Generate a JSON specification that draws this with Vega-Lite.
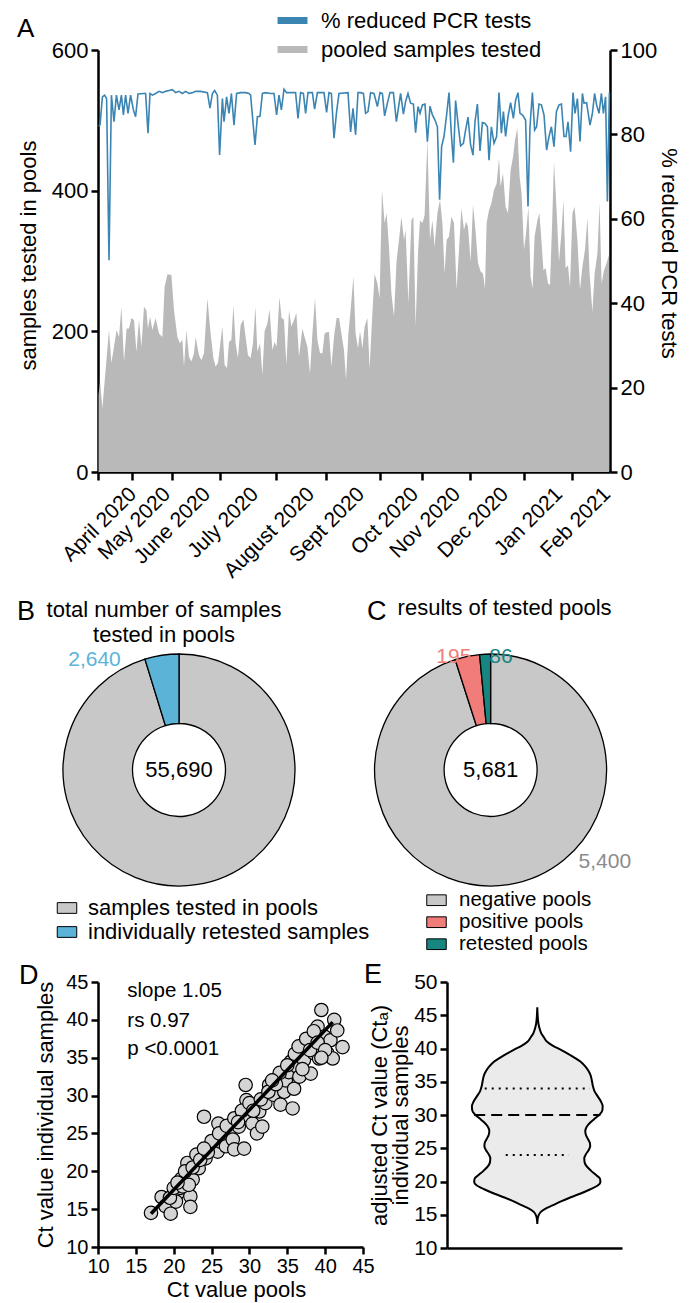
{
  "$schema": "https://vega.github.io/schema/vega-lite/v6.json",
  "padding": {"left": 17, "top": 6, "right": 10, "bottom": 5},
  "config": {
    "font": "Liberation Sans",
    "view": {"stroke": null},
    "axis": {"domainColor": "black", "domainWidth": 2.5, "tickColor": "black", "tickWidth": 2.5, "tickSize": 7, "labelFontSize": 21, "labelColor": "black", "titleFontSize": 22, "titleFontWeight": "normal", "titleColor": "black", "grid": false, "labelFont": "Liberation Sans", "titleFont": "Liberation Sans", "labelPadding": 3, "labelOverlap": false, "labelFlush": false, "labelBound": false},
    "legend": {"labelFont": "Liberation Sans", "labelColor": "black", "padding": 0, "labelLimit": 0},
    "title": {"font": "Liberation Sans", "fontSize": 27, "fontWeight": "normal", "color": "black", "anchor": "start", "frame": "group", "offset": 0, "baseline": "alphabetic"},
    "text": {"font": "Liberation Sans"}
  },
  "datasets": {
    "pooled": [
      {"d":0.3,"v":110},{"d":1.0,"v":128},{"d":2.2,"v":91},{"d":3.8,"v":145},{"d":5.5,"v":202},{"d":6.7,"v":155},{"d":8.0,"v":178},{"d":9.3,"v":202},{"d":10.5,"v":192},{"d":11.7,"v":235},{"d":13.0,"v":157},{"d":14.3,"v":204},{"d":15.5,"v":204},{"d":16.7,"v":219},{"d":18.0,"v":216},{"d":19.2,"v":171},{"d":20.5,"v":216},{"d":21.7,"v":178},{"d":23.0,"v":235},{"d":24.2,"v":230},{"d":25.0,"v":204},{"d":26.0,"v":221},{"d":27.2,"v":202},{"d":28.8,"v":219},{"d":30.5,"v":197},{"d":32.2,"v":192},{"d":33.3,"v":263},{"d":34.7,"v":281},{"d":36.7,"v":280},{"d":38.0,"v":230},{"d":39.7,"v":192},{"d":41.0,"v":183},{"d":42.2,"v":188},{"d":43.0,"v":150},{"d":44.2,"v":202},{"d":45.5,"v":164},{"d":46.7,"v":157},{"d":48.0,"v":169},{"d":48.8,"v":192},{"d":50.5,"v":166},{"d":51.7,"v":159},{"d":53.0,"v":169},{"d":54.7,"v":247},{"d":56.3,"v":197},{"d":57.7,"v":162},{"d":58.8,"v":150},{"d":60.0,"v":155},{"d":62.2,"v":207},{"d":63.3,"v":152},{"d":64.5,"v":148},{"d":65.5,"v":185},{"d":66.7,"v":188},{"d":67.7,"v":237},{"d":68.8,"v":183},{"d":70.0,"v":162},{"d":71.3,"v":209},{"d":72.7,"v":217},{"d":73.8,"v":192},{"d":75.0,"v":166},{"d":76.3,"v":162},{"d":77.5,"v":183},{"d":78.7,"v":235},{"d":79.7,"v":171},{"d":81.0,"v":183},{"d":82.2,"v":138},{"d":83.3,"v":200},{"d":84.7,"v":211},{"d":85.8,"v":231},{"d":87.2,"v":173},{"d":88.3,"v":185},{"d":89.3,"v":178},{"d":90.7,"v":249},{"d":91.8,"v":219},{"d":93.0,"v":217},{"d":94.2,"v":152},{"d":95.5,"v":230},{"d":96.7,"v":207},{"d":98.0,"v":216},{"d":99.2,"v":226},{"d":100.5,"v":164},{"d":102.2,"v":204},{"d":103.3,"v":192},{"d":104.7,"v":178},{"d":106.0,"v":140},{"d":107.2,"v":197},{"d":108.5,"v":247},{"d":109.7,"v":188},{"d":111.0,"v":169},{"d":112.2,"v":169},{"d":113.3,"v":197},{"d":114.7,"v":199},{"d":115.5,"v":199},{"d":116.7,"v":150},{"d":118.0,"v":192},{"d":119.3,"v":219},{"d":120.5,"v":219},{"d":121.7,"v":197},{"d":123.0,"v":173},{"d":124.0,"v":131},{"d":125.2,"v":197},{"d":126.3,"v":230},{"d":127.7,"v":278},{"d":128.8,"v":197},{"d":130.0,"v":176},{"d":131.0,"v":200},{"d":132.2,"v":176},{"d":133.3,"v":207},{"d":134.7,"v":219},{"d":135.8,"v":147},{"d":137.2,"v":226},{"d":138.3,"v":282},{"d":139.7,"v":268},{"d":140.8,"v":247},{"d":142.0,"v":401},{"d":143.3,"v":354},{"d":144.3,"v":368},{"d":145.5,"v":320},{"d":146.7,"v":254},{"d":148.0,"v":221},{"d":149.3,"v":301},{"d":150.5,"v":330},{"d":151.7,"v":363},{"d":153.0,"v":330},{"d":153.8,"v":344},{"d":155.2,"v":240},{"d":156.7,"v":358},{"d":157.7,"v":363},{"d":158.8,"v":207},{"d":160.0,"v":311},{"d":161.0,"v":358},{"d":162.2,"v":354},{"d":163.3,"v":365},{"d":164.7,"v":472},{"d":166.0,"v":330},{"d":167.2,"v":358},{"d":168.3,"v":320},{"d":169.7,"v":368},{"d":171.0,"v":387},{"d":172.2,"v":354},{"d":173.3,"v":282},{"d":174.3,"v":330},{"d":175.5,"v":335},{"d":176.7,"v":363},{"d":178.0,"v":354},{"d":179.3,"v":259},{"d":180.5,"v":316},{"d":181.7,"v":375},{"d":183.0,"v":344},{"d":184.0,"v":356},{"d":185.0,"v":349},{"d":186.3,"v":299},{"d":187.5,"v":380},{"d":188.8,"v":342},{"d":190.0,"v":297},{"d":191.3,"v":285},{"d":192.5,"v":282},{"d":193.5,"v":261},{"d":194.3,"v":354},{"d":195.5,"v":372},{"d":196.7,"v":382},{"d":198.0,"v":401},{"d":199.3,"v":410},{"d":200.5,"v":446},{"d":201.3,"v":406},{"d":202.5,"v":425},{"d":203.8,"v":377},{"d":205.0,"v":368},{"d":206.3,"v":429},{"d":207.5,"v":448},{"d":208.5,"v":472},{"d":209.7,"v":489},{"d":210.8,"v":420},{"d":211.8,"v":396},{"d":213.0,"v":316},{"d":214.0,"v":339},{"d":215.2,"v":377},{"d":216.3,"v":278},{"d":217.3,"v":261},{"d":218.3,"v":335},{"d":219.7,"v":358},{"d":220.7,"v":368},{"d":221.7,"v":330},{"d":222.7,"v":287},{"d":223.8,"v":290},{"d":225.0,"v":268},{"d":226.0,"v":266},{"d":227.0,"v":349},{"d":228.0,"v":441},{"d":229.3,"v":372},{"d":230.5,"v":299},{"d":231.7,"v":339},{"d":232.7,"v":387},{"d":233.8,"v":290},{"d":235.0,"v":294},{"d":236.0,"v":263},{"d":237.2,"v":368},{"d":238.3,"v":377},{"d":239.7,"v":330},{"d":241.0,"v":259},{"d":242.2,"v":292},{"d":243.5,"v":316},{"d":244.7,"v":361},{"d":245.8,"v":282},{"d":247.2,"v":228},{"d":248.3,"v":282},{"d":249.7,"v":311},{"d":250.8,"v":382},{"d":251.8,"v":268},{"d":253.0,"v":287},{"d":254.3,"v":297},{"d":255.5,"v":309}
    ],
    "reduced": [
      {"d":0.3,"p":82.0},{"d":1.0,"p":82.2},{"d":2.2,"p":88.9},{"d":3.3,"p":89.3},{"d":4.3,"p":88.5},{"d":5.5,"p":50.2},{"d":6.7,"p":89.3},{"d":8.0,"p":83.0},{"d":9.2,"p":89.3},{"d":10.5,"p":85.8},{"d":11.7,"p":89.3},{"d":12.7,"p":84.6},{"d":13.8,"p":89.3},{"d":15.0,"p":85.0},{"d":16.3,"p":89.3},{"d":17.7,"p":85.8},{"d":18.8,"p":84.2},{"d":20.0,"p":89.6},{"d":23.0,"p":89.7},{"d":23.8,"p":89.7},{"d":25.0,"p":80.3},{"d":26.0,"p":89.7},{"d":27.2,"p":89.3},{"d":28.8,"p":89.7},{"d":30.5,"p":90.2},{"d":32.2,"p":89.9},{"d":33.8,"p":90.2},{"d":35.5,"p":90.4},{"d":37.2,"p":90.6},{"d":38.8,"p":89.9},{"d":40.5,"p":90.2},{"d":42.2,"p":89.7},{"d":43.8,"p":90.2},{"d":45.5,"p":89.7},{"d":47.2,"p":89.9},{"d":48.8,"p":90.2},{"d":51.3,"p":90.2},{"d":54.7,"p":89.9},{"d":56.0,"p":86.2},{"d":57.2,"p":89.7},{"d":58.3,"p":90.4},{"d":59.7,"p":89.3},{"d":60.8,"p":75.1},{"d":62.2,"p":88.5},{"d":63.0,"p":83.0},{"d":64.3,"p":88.9},{"d":65.5,"p":85.0},{"d":66.7,"p":89.7},{"d":68.0,"p":82.2},{"d":69.3,"p":89.7},{"d":71.3,"p":89.9},{"d":73.8,"p":89.9},{"d":75.5,"p":89.7},{"d":76.3,"p":89.3},{"d":78.5,"p":77.5},{"d":79.7,"p":84.2},{"d":81.0,"p":84.3},{"d":82.2,"p":89.7},{"d":83.8,"p":89.9},{"d":86.3,"p":89.7},{"d":88.0,"p":89.7},{"d":89.3,"p":84.6},{"d":90.5,"p":89.3},{"d":91.7,"p":85.8},{"d":93.0,"p":90.7},{"d":94.3,"p":89.9},{"d":96.3,"p":89.9},{"d":98.8,"p":89.9},{"d":100.0,"p":83.8},{"d":101.3,"p":89.9},{"d":102.7,"p":89.7},{"d":103.8,"p":85.0},{"d":105.0,"p":89.9},{"d":107.2,"p":89.9},{"d":108.3,"p":86.0},{"d":109.7,"p":89.9},{"d":113.0,"p":89.9},{"d":114.3,"p":85.2},{"d":115.5,"p":89.9},{"d":116.7,"p":89.7},{"d":118.0,"p":79.1},{"d":119.3,"p":85.4},{"d":120.5,"p":89.7},{"d":125.0,"p":89.9},{"d":126.3,"p":80.6},{"d":127.5,"p":86.2},{"d":128.8,"p":79.9},{"d":130.0,"p":89.9},{"d":131.3,"p":89.9},{"d":132.7,"p":89.7},{"d":133.8,"p":85.0},{"d":135.0,"p":85.4},{"d":136.3,"p":89.9},{"d":138.0,"p":89.7},{"d":139.7,"p":86.6},{"d":141.0,"p":89.9},{"d":142.2,"p":89.7},{"d":143.3,"p":84.4},{"d":144.7,"p":87.4},{"d":146.0,"p":89.9},{"d":147.7,"p":89.9},{"d":149.2,"p":83.0},{"d":150.2,"p":86.2},{"d":151.3,"p":89.7},{"d":152.7,"p":84.8},{"d":153.8,"p":87.8},{"d":155.0,"p":89.7},{"d":156.3,"p":87.4},{"d":157.7,"p":87.2},{"d":158.8,"p":80.4},{"d":160.0,"p":86.6},{"d":161.0,"p":85.0},{"d":162.2,"p":87.0},{"d":163.5,"p":87.2},{"d":164.7,"p":78.3},{"d":166.0,"p":86.7},{"d":167.2,"p":84.6},{"d":168.5,"p":83.4},{"d":169.7,"p":81.8},{"d":170.8,"p":64.5},{"d":171.8,"p":77.1},{"d":173.0,"p":79.5},{"d":174.3,"p":84.6},{"d":175.5,"p":89.9},{"d":176.7,"p":79.9},{"d":177.7,"p":73.3},{"d":178.8,"p":88.0},{"d":180.0,"p":82.6},{"d":181.3,"p":77.3},{"d":182.7,"p":77.9},{"d":183.8,"p":81.0},{"d":185.0,"p":84.1},{"d":186.3,"p":77.5},{"d":187.5,"p":75.1},{"d":188.5,"p":83.0},{"d":189.7,"p":87.2},{"d":191.0,"p":76.1},{"d":192.2,"p":82.8},{"d":193.5,"p":82.6},{"d":194.7,"p":81.8},{"d":195.5,"p":73.9},{"d":196.7,"p":81.8},{"d":198.0,"p":77.9},{"d":199.3,"p":79.5},{"d":200.5,"p":89.9},{"d":201.7,"p":80.3},{"d":202.7,"p":85.4},{"d":203.8,"p":79.5},{"d":205.0,"p":84.2},{"d":206.3,"p":87.5},{"d":207.7,"p":83.8},{"d":208.8,"p":88.1},{"d":210.0,"p":89.9},{"d":211.0,"p":85.0},{"d":212.3,"p":84.6},{"d":213.8,"p":83.4},{"d":215.0,"p":62.9},{"d":216.0,"p":81.8},{"d":217.2,"p":89.9},{"d":218.3,"p":81.0},{"d":219.3,"p":81.8},{"d":220.5,"p":87.2},{"d":221.7,"p":87.0},{"d":223.0,"p":84.6},{"d":224.3,"p":76.3},{"d":225.5,"p":79.5},{"d":226.7,"p":81.8},{"d":228.0,"p":77.1},{"d":229.2,"p":85.4},{"d":230.5,"p":87.0},{"d":231.7,"p":87.2},{"d":233.0,"p":79.5},{"d":234.0,"p":79.5},{"d":235.0,"p":83.0},{"d":236.3,"p":75.9},{"d":237.5,"p":89.9},{"d":238.5,"p":85.0},{"d":239.7,"p":88.5},{"d":241.0,"p":78.3},{"d":242.2,"p":89.7},{"d":243.0,"p":87.4},{"d":244.3,"p":87.5},{"d":246.0,"p":82.2},{"d":247.2,"p":85.0},{"d":248.3,"p":89.7},{"d":249.3,"p":87.0},{"d":250.5,"p":85.0},{"d":251.7,"p":89.7},{"d":252.7,"p":85.0},{"d":253.8,"p":88.9},{"d":254.7,"p":64.1},{"d":255.7,"p":89.9}
    ],
    "ct": [
      {"pool":17.0,"ind":14.5},{"pool":18.4,"ind":16.6},{"pool":18.9,"ind":15.4},{"pool":19.6,"ind":14.4},{"pool":20.5,"ind":17.1},{"pool":20.3,"ind":16.0},{"pool":20.9,"ind":17.8},{"pool":21.4,"ind":18.5},{"pool":22.0,"ind":19.7},{"pool":22.2,"ind":16.7},{"pool":22.2,"ind":15.3},{"pool":22.5,"ind":18.9},{"pool":21.8,"ind":21.1},{"pool":23.0,"ind":22.2},{"pool":23.3,"ind":20.4},{"pool":24.2,"ind":21.7},{"pool":25.1,"ind":23.3},{"pool":25.8,"ind":22.6},{"pool":26.2,"ind":23.9},{"pool":24.0,"ind":27.2},{"pool":25.9,"ind":26.3},{"pool":26.9,"ind":23.3},{"pool":27.3,"ind":25.0},{"pool":27.8,"ind":24.2},{"pool":28.0,"ind":22.9},{"pool":28.6,"ind":25.9},{"pool":29.3,"ind":23.0},{"pool":29.5,"ind":31.4},{"pool":29.6,"ind":29.4},{"pool":29.7,"ind":27.4},{"pool":30.4,"ind":26.3},{"pool":31.0,"ind":25.0},{"pool":31.3,"ind":27.9},{"pool":31.7,"ind":25.9},{"pool":32.1,"ind":29.0},{"pool":32.6,"ind":31.4},{"pool":33.2,"ind":30.1},{"pool":33.9,"ind":32.5},{"pool":34.1,"ind":28.8},{"pool":34.6,"ind":30.5},{"pool":34.8,"ind":32.0},{"pool":35.2,"ind":33.1},{"pool":35.7,"ind":28.3},{"pool":35.5,"ind":34.5},{"pool":35.9,"ind":30.9},{"pool":36.3,"ind":33.8},{"pool":36.6,"ind":32.5},{"pool":37.0,"ind":36.0},{"pool":37.2,"ind":34.7},{"pool":37.7,"ind":36.7},{"pool":38.1,"ind":32.9},{"pool":38.5,"ind":35.6},{"pool":39.0,"ind":39.1},{"pool":39.2,"ind":34.9},{"pool":39.5,"ind":41.3},{"pool":39.9,"ind":37.8},{"pool":40.3,"ind":35.6},{"pool":40.7,"ind":37.3},{"pool":41.0,"ind":34.9},{"pool":41.2,"ind":40.0},{"pool":42.3,"ind":36.4},{"pool":41.6,"ind":38.6},
      {"pool":19.5,"ind":16.5},{"pool":20.0,"ind":17.8},{"pool":21.0,"ind":19.0},{"pool":21.5,"ind":20.0},{"pool":22.5,"ind":20.5},{"pool":23.5,"ind":21.5},{"pool":24.5,"ind":22.5},{"pool":25.0,"ind":24.0},{"pool":26.0,"ind":25.0},{"pool":27.0,"ind":26.0},{"pool":28.0,"ind":27.0},{"pool":29.0,"ind":28.0},{"pool":30.0,"ind":29.0},{"pool":30.5,"ind":28.0},{"pool":31.5,"ind":29.5},{"pool":32.5,"ind":30.5},{"pool":33.5,"ind":31.5},{"pool":34.0,"ind":33.0},{"pool":35.0,"ind":34.0},{"pool":36.0,"ind":35.5},{"pool":36.5,"ind":36.5},{"pool":37.5,"ind":37.5},{"pool":38.0,"ind":36.0},{"pool":38.5,"ind":38.5},{"pool":39.0,"ind":37.0},{"pool":40.0,"ind":36.0},{"pool":21.2,"ind":18.0},{"pool":22.0,"ind":18.2},{"pool":20.5,"ind":18.5},{"pool":24.0,"ind":23.0},{"pool":28.5,"ind":26.5},{"pool":33.0,"ind":32.0},{"pool":37.0,"ind":33.5},{"pool":39.5,"ind":35.0}
    ],
    "violin": [
      {"ct":13.6,"left":0,"right":0},{"ct":14.5,"left":-0.008,"right":0.008},{"ct":14.9,"left":-0.02,"right":0.02},{"ct":15.4,"left":-0.05,"right":0.05},{"ct":15.9,"left":-0.12,"right":0.12},{"ct":16.4,"left":-0.23,"right":0.23},{"ct":17.0,"left":-0.36,"right":0.36},{"ct":17.6,"left":-0.5,"right":0.5},{"ct":18.2,"left":-0.66,"right":0.66},{"ct":18.8,"left":-0.8,"right":0.8},{"ct":19.4,"left":-0.92,"right":0.92},{"ct":19.9,"left":-0.96,"right":0.96},{"ct":20.4,"left":-0.955,"right":0.955},{"ct":21.0,"left":-0.89,"right":0.89},{"ct":21.6,"left":-0.82,"right":0.82},{"ct":22.3,"left":-0.75,"right":0.75},{"ct":22.9,"left":-0.72,"right":0.72},{"ct":23.5,"left":-0.715,"right":0.715},{"ct":24.1,"left":-0.74,"right":0.74},{"ct":24.7,"left":-0.78,"right":0.78},{"ct":25.3,"left":-0.805,"right":0.805},{"ct":25.8,"left":-0.8,"right":0.8},{"ct":26.4,"left":-0.77,"right":0.77},{"ct":27.0,"left":-0.74,"right":0.74},{"ct":27.6,"left":-0.73,"right":0.73},{"ct":28.2,"left":-0.75,"right":0.75},{"ct":28.9,"left":-0.81,"right":0.81},{"ct":29.5,"left":-0.88,"right":0.88},{"ct":30.1,"left":-0.95,"right":0.95},{"ct":30.7,"left":-0.99,"right":0.99},{"ct":31.3,"left":-0.995,"right":0.995},{"ct":32.0,"left":-0.97,"right":0.97},{"ct":32.8,"left":-0.92,"right":0.92},{"ct":33.6,"left":-0.87,"right":0.87},{"ct":34.4,"left":-0.845,"right":0.845},{"ct":35.2,"left":-0.83,"right":0.83},{"ct":36.0,"left":-0.81,"right":0.81},{"ct":36.6,"left":-0.78,"right":0.78},{"ct":37.3,"left":-0.73,"right":0.73},{"ct":38.0,"left":-0.66,"right":0.66},{"ct":38.6,"left":-0.57,"right":0.57},{"ct":39.2,"left":-0.47,"right":0.47},{"ct":39.8,"left":-0.36,"right":0.36},{"ct":40.4,"left":-0.24,"right":0.24},{"ct":41.0,"left":-0.15,"right":0.15},{"ct":41.7,"left":-0.1,"right":0.1},{"ct":42.3,"left":-0.06,"right":0.06},{"ct":43.0,"left":-0.035,"right":0.035},{"ct":43.6,"left":-0.02,"right":0.02},{"ct":44.4,"left":-0.01,"right":0.01},{"ct":46.2,"left":0,"right":0}
    ]
  },
  "vconcat": [
    {
      "width": 512,
      "height": 422,
      "title": {"text": "A", "dx": -81, "dy": 40, "fontSize": 26},
      "layer": [
        {
          "data": {"name": "pooled"},
          "mark": {"type": "area", "opacity": 1},
          "encoding": {
            "x": {"field": "d", "type": "quantitative", "scale": {"domain": [0, 256], "nice": false, "zero": false},
              "axis": {"values": [0, 17, 37, 61, 89, 114, 141, 162, 186, 213, 237], "title": null, "labelAngle": -45, "labelFontSize": 21, "tickSize": 8, "labelOffset": 27,
                "labelExpr": "datum.value == 0 ? 'April 2020' : datum.value == 17 ? 'May 2020' : datum.value == 37 ? 'June 2020' : datum.value == 61 ? 'July 2020' : datum.value == 89 ? 'August 2020' : datum.value == 114 ? 'Sept 2020' : datum.value == 141 ? 'Oct 2020' : datum.value == 162 ? 'Nov 2020' : datum.value == 186 ? 'Dec 2020' : datum.value == 213 ? 'Jan 2021' : 'Feb 2021'"}},
            "y": {"field": "v", "type": "quantitative", "scale": {"domain": [0, 600], "nice": false},
              "axis": {"values": [0, 200, 400, 600], "title": "samples tested in pools", "titleX": -63, "titleY": 205, "titleAlign": "center", "titleBaseline": "alphabetic", "titleAngle": -90, "labelFontSize": 22}},
            "color": {"datum": "pooled samples tested", "type": "nominal",
              "scale": {"domain": ["% reduced PCR tests", "pooled samples tested"], "range": ["#3b85b3", "#b9b9b9"]},
              "legend": {"orient": "none", "legendX": 180, "legendY": -44, "title": null, "symbolType": "M-1.36,0H1.36", "symbolSize": 484, "symbolStrokeWidth": 7, "labelFontSize": 22, "labelOffset": 14, "rowPadding": -9, "padding": 0,
                "encode": {"symbols": {"update": {"stroke": {"scale": "color", "field": "value"}, "strokeCap": {"value": "round"}, "strokeWidth": {"value": 7}, "opacity": {"value": 1}}}}}}
          }
        },
        {
          "data": {"name": "reduced"},
          "mark": {"type": "line", "strokeWidth": 1.6},
          "encoding": {
            "x": {"field": "d", "type": "quantitative"},
            "y": {"field": "p", "type": "quantitative", "scale": {"domain": [0, 100], "nice": false},
              "axis": {"orient": "right", "values": [0, 20, 40, 60, 80, 100], "title": "% reduced PCR tests", "titleX": 51, "titleY": 203, "titleAlign": "center", "titleBaseline": "alphabetic", "titleAngle": 90, "labelFontSize": 22}},
            "color": {"datum": "% reduced PCR tests", "type": "nominal"}
          }
        }
      ],
      "resolve": {"scale": {"y": "independent"}}
    },
    {
      "vconcat": [
        {
          "hconcat": [
            {
              "width": 162,
              "height": 232,
              "title": {"text": "B", "dx": -81, "dy": 31},
              "data": {"values": [
                {"cat": "samples tested in pools", "n": 53050, "k": 1, "lbl": ""},
                {"cat": "individually retested samples", "n": 2640, "k": 2, "lbl": "2,640"}
              ]},
              "layer": [
                {
                  "mark": {"type": "arc", "radius": 116, "radius2": 46.5, "stroke": "black", "strokeWidth": 1.3},
                  "encoding": {
                    "theta": {"field": "n", "type": "quantitative", "stack": true},
                    "order": {"field": "k", "type": "quantitative"},
                    "color": {"field": "cat", "type": "nominal",
                      "scale": {"domain": ["samples tested in pools", "individually retested samples"], "range": ["#c8c8c8", "#5bb3d8"]},
                      "legend": {"orient": "none", "legendX": -42, "legendY": 243, "title": null, "symbolType": "M-1,-0.55H1V0.55H-1Z", "symbolSize": 380, "symbolStrokeColor": "black", "symbolStrokeWidth": 1, "labelFontSize": 22, "labelOffset": 10, "rowPadding": 2, "padding": 0}}
                  }
                },
                {
                  "mark": {"type": "text", "radius": 118, "dx": -67, "dy": 7, "fontSize": 21, "color": "#5bb3d8", "baseline": "middle"},
                  "encoding": {
                    "theta": {"field": "n", "type": "quantitative", "stack": true},
                    "order": {"field": "k", "type": "quantitative"},
                    "text": {"field": "lbl"}
                  }
                },
                {
                  "data": {"values": [{"t": "55,690"}]},
                  "mark": {"type": "text", "fontSize": 22, "baseline": "middle", "align": "center"},
                  "encoding": {"text": {"field": "t"}}
                },
                {
                  "data": {"values": [{}]},
                  "mark": {"type": "text", "fontSize": 22, "align": "center", "baseline": "alphabetic", "dx": -15, "dy": -153, "lineHeight": 25},
                  "encoding": {"text": {"value": ["total number of samples", "tested in pools"]}}
                }
              ]
            },
            {
              "width": 232,
              "height": 232,
              "title": {"text": "C", "dx": -7.6, "dy": 33},
              "data": {"values": [
                {"cat": "negative pools", "n": 5400, "k": 1, "lbl": "5,400"},
                {"cat": "positive pools", "n": 195, "k": 2, "lbl": "195"},
                {"cat": "retested pools", "n": 86, "k": 3, "lbl": "86"}
              ]},
              "layer": [
                {
                  "mark": {"type": "arc", "radius": 116, "radius2": 46.5, "stroke": "black", "strokeWidth": 1.3},
                  "encoding": {
                    "theta": {"field": "n", "type": "quantitative", "stack": true},
                    "order": {"field": "k", "type": "quantitative"},
                    "color": {"field": "cat", "type": "nominal",
                      "scale": {"domain": ["negative pools", "positive pools", "retested pools"], "range": ["#c8c8c8", "#f07d7a", "#178580"]},
                      "legend": {"orient": "none", "legendX": 51.4, "legendY": 235.7, "title": null, "symbolType": "M-1,-0.55H1V0.55H-1Z", "symbolSize": 380, "symbolStrokeColor": "black", "symbolStrokeWidth": 1, "labelFontSize": 20.5, "labelOffset": 12, "rowPadding": 1, "padding": 0}}
                  }
                },
                {
                  "mark": {"type": "text", "radius": 118, "dx": -13, "dy": 3, "fontSize": 21, "color": "#f07d7a", "baseline": "middle"},
                  "encoding": {
                    "theta": {"field": "n", "type": "quantitative", "stack": true},
                    "order": {"field": "k", "type": "quantitative"},
                    "text": {"condition": {"test": "datum.cat == 'positive pools'", "field": "lbl"}, "value": ""}
                  }
                },
                {
                  "mark": {"type": "text", "radius": 118, "dx": 16, "dy": 5, "fontSize": 21, "color": "#178580", "baseline": "middle"},
                  "encoding": {
                    "theta": {"field": "n", "type": "quantitative", "stack": true},
                    "order": {"field": "k", "type": "quantitative"},
                    "text": {"condition": {"test": "datum.cat == 'retested pools'", "field": "lbl"}, "value": ""}
                  }
                },
                {
                  "mark": {"type": "text", "radius": 118, "dx": 96, "dy": -25, "fontSize": 21, "color": "#8c8c8c", "baseline": "middle"},
                  "encoding": {
                    "theta": {"field": "n", "type": "quantitative", "stack": true},
                    "order": {"field": "k", "type": "quantitative"},
                    "text": {"condition": {"test": "datum.cat == 'negative pools'", "field": "lbl"}, "value": ""}
                  }
                },
                {
                  "data": {"values": [{"t": "5,681"}]},
                  "mark": {"type": "text", "fontSize": 22, "baseline": "middle", "align": "center"},
                  "encoding": {"text": {"field": "t"}}
                },
                {
                  "data": {"values": [{}]},
                  "mark": {"type": "text", "fontSize": 22, "align": "center", "baseline": "alphabetic", "dx": 14, "dy": -155},
                  "encoding": {"text": {"value": "results of tested pools"}}
                }
              ]
            }
          ],
          "spacing": 114.6,
          "bounds": "flush",
          "resolve": {"scale": {"color": "independent", "theta": "independent"}, "legend": {"color": "independent"}}
        },
        {
          "hconcat": [
            {
              "width": 265,
              "height": 265,
              "title": {"text": "D", "dx": -79, "dy": 21.5},
              "encoding": {
                "x": {"field": "pool", "type": "quantitative", "scale": {"domain": [10, 45], "nice": false, "zero": false},
                  "axis": {"values": [10, 15, 20, 25, 30, 35, 40, 45], "title": "Ct value pools", "titleX": 138, "titleY": 49, "titleBaseline": "alphabetic", "labelFontSize": 20, "labelPadding": 2}},
                "y": {"field": "ind", "type": "quantitative", "scale": {"domain": [10, 45], "nice": false, "zero": false},
                  "axis": {"values": [10, 15, 20, 25, 30, 35, 40, 45], "title": "Ct value individual samples", "titleX": -46, "titleBaseline": "alphabetic", "titleAngle": -90, "labelFontSize": 20}}
              },
              "layer": [
                {
                  "data": {"name": "ct"},
                  "mark": {"type": "circle", "size": 180, "fill": "#d4d4d4", "stroke": "black", "strokeWidth": 1.2, "opacity": 1, "fillOpacity": 1}
                },
                {
                  "data": {"values": [{"pool": 17.0, "ind": 14.4}, {"pool": 41.0, "ind": 39.7}]},
                  "mark": {"type": "line", "color": "black", "strokeWidth": 3.5}
                },
                {
                  "data": {"values": [
                    {"pool": 13.87, "ind": 43.0, "s": "slope 1.05"},
                    {"pool": 13.87, "ind": 39.0, "s": "rs 0.97"},
                    {"pool": 13.87, "ind": 35.3, "s": "p <0.0001"}
                  ]},
                  "mark": {"type": "text", "align": "left", "baseline": "alphabetic", "fontSize": 20.5},
                  "encoding": {"text": {"field": "s"}}
                }
              ]
            },
            {
              "width": 175,
              "height": 266,
              "title": {"text": "E", "dx": -83, "dy": 21.5},
              "encoding": {
                "y": {"field": "ct", "type": "quantitative", "scale": {"domain": [10, 50], "nice": false, "zero": false},
                  "axis": {"values": [10, 15, 20, 25, 30, 35, 40, 45, 50], "title": ["adjusted Ct value (Ctₐ)", "individual samples"], "titleX": -61, "titleLineHeight": 21, "titleBaseline": "alphabetic", "titleAngle": -90, "labelFontSize": 21}},
                "x": {"field": "left", "type": "quantitative", "scale": {"domain": [-1.374, 1.289], "nice": false, "zero": false},
                  "axis": {"labels": false, "ticks": false, "title": null}},
                "x2": {"field": "right"}
              },
              "layer": [
                {
                  "data": {"name": "violin"},
                  "mark": {"type": "area", "orient": "horizontal", "interpolate": "monotone", "fill": "#ebebeb", "stroke": "black", "strokeWidth": 2, "opacity": 1}
                },
                {
                  "data": {"values": [{"ct": 30, "left": -0.96, "right": 0.96}]},
                  "mark": {"type": "rule", "color": "black", "strokeWidth": 2, "strokeDash": [11, 6]}
                },
                {
                  "data": {"values": [{"ct": 34, "left": -0.8, "right": 0.8}, {"ct": 24, "left": -0.48, "right": 0.48}]},
                  "mark": {"type": "rule", "color": "black", "strokeWidth": 2, "strokeDash": [2, 5]}
                }
              ]
            }
          ],
          "spacing": 84,
          "bounds": "flush",
          "resolve": {"scale": {"x": "independent", "y": "independent"}}
        }
      ],
      "spacing": 328,
      "bounds": "flush",
      "resolve": {"scale": {"color": "independent", "theta": "independent", "x": "independent", "y": "independent"}, "legend": {"color": "independent"}}
    }
  ],
  "spacing": 182,
  "bounds": "flush",
  "resolve": {"scale": {"color": "independent", "theta": "independent", "x": "independent", "y": "independent"}, "legend": {"color": "independent"}}
}
